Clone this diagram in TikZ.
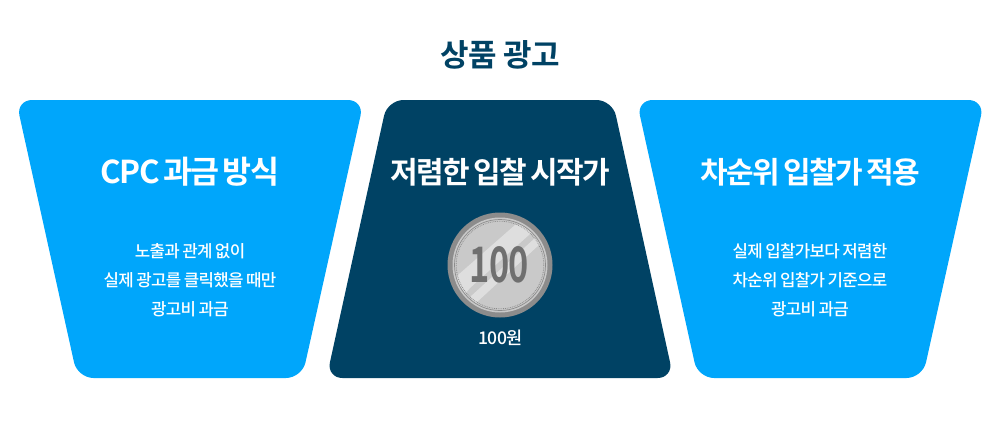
\documentclass[tikz,border=0pt]{standalone}
\usepackage{fontspec}
\setmainfont{Noto Sans CJK KR}
\newfontfamily\krmed{Noto Sans CJK KR Medium}[LetterSpace=-4,WordSpace=0.8]
\newfontfamily\krbold{Noto Sans CJK KR Bold}[LetterSpace=-5,WordSpace=0.6]
\newfontfamily\krtitle{Noto Sans CJK KR Bold}[LetterSpace=-2]
\newfontfamily\krcoin{Noto Sans CJK KR Bold}[LetterSpace=-2]
\definecolor{skyblue}{HTML}{00A6FB}
\definecolor{navy}{HTML}{004264}
\definecolor{coinrim}{HTML}{8C8C8C}
\definecolor{coinface}{HTML}{C9C9C9}
\definecolor{coinlight}{HTML}{DEDEDE}
\definecolor{coinnum}{HTML}{6F6F6F}
\tikzset{
  panel/.style={rounded corners=16pt,draw=none},
  headtext/.style={text=white,font=\krbold\fontsize{30}{32}\selectfont,inner sep=0pt,anchor=center},
  bodytext/.style={text=white,font=\krmed\fontsize{16.8}{29}\selectfont,inner sep=0pt,align=center,anchor=center},
}
\begin{document}
\begin{tikzpicture}[x=1pt,y=-1pt]
\useasboundingbox (0,0) rectangle (1000,421);
\node[inner sep=0pt,text=navy,font=\krtitle\fontsize{31}{34}\selectfont] (title) at (500,55) {상품 광고};
% panels
\fill[panel,skyblue] (16,100) -- (364,100) -- (302,378) -- (77.5,378) -- cycle;
\fill[panel,navy] (387.5,100) -- (612.5,100) -- (673.5,378) -- (326.5,378) -- cycle;
\fill[panel,skyblue] (636.5,100) -- (984.5,100) -- (922.5,378) -- (698,378) -- cycle;
% headings
\node[headtext,font=\krbold\fontsize{31.5}{32}\selectfont] (h1) at (190,172) {CPC 과금 방식};
\node[headtext] (h2) at (500,172) {저렴한 입찰 시작가};
\node[headtext] (h3) at (810,172) {차순위 입찰가 적용};
% bodies
\node[bodytext] (b1) at (190,280) {노출과 관계 없이\\실제 광고를 클릭했을 때만\\광고비 과금};
\node[bodytext] (b3) at (810,280) {실제 입찰가보다 저렴한\\차순위 입찰가 기준으로\\광고비 과금};
% coin
\fill[coinrim] (500,265) circle (52.5);
\fill[coinface] (500,265) circle (47.5);
\begin{scope}
\clip (500,265) circle (45);
\fill[coinlight] (450,282) -- (515,225) -- (540,225) -- (470,288) -- (460,300) -- cycle;
\fill[coinlight] (470,297) -- (535,238) -- (540,244) -- (476,303) -- cycle;
\end{scope}
\draw[coinrim,line width=.7pt] (500,265) circle (45.5);
\draw[coinrim,line width=.8pt,densely dotted] (500,265) circle (43.8);
\node[inner sep=0pt,text=coinnum,font=\krcoin\fontsize{49}{50}\selectfont] (coinval) at (499.5,265) {\scalebox{.7}[1]{100}};
\node[inner sep=0pt,text=white,font=\krmed\fontsize{17.5}{20}\selectfont] (won) at (500.5,338) {100원};
\end{tikzpicture}
\end{document}
